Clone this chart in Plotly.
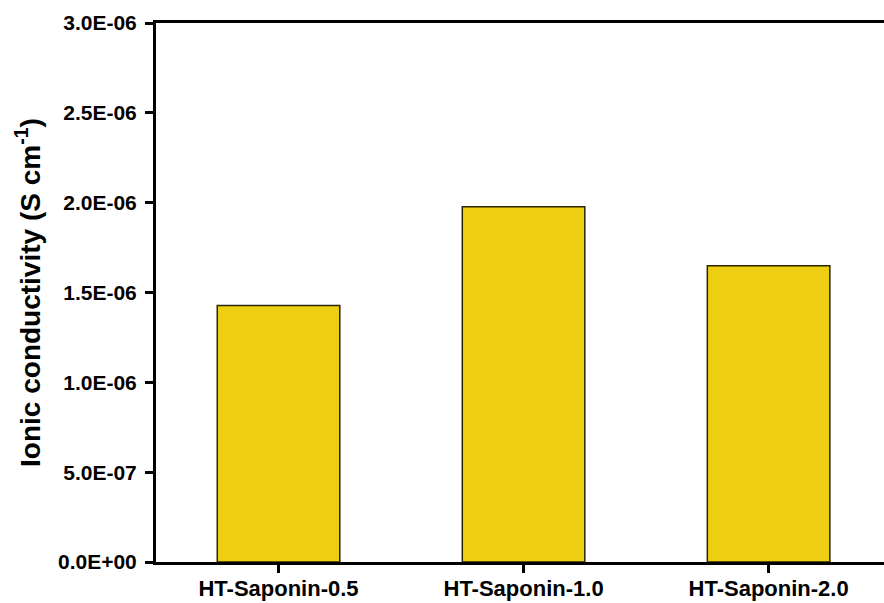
import plotly.graph_objects as go

categories = ["HT-Saponin-0.5", "HT-Saponin-1.0", "HT-Saponin-2.0"]
conductivity = [1.428e-06, 1.977e-06, 1.649e-06]
y_tick_vals = [0, 5e-07, 1e-06, 1.5e-06, 2e-06, 2.5e-06, 3e-06]
y_tick_text = ["0.0E+00", "5.0E-07", "1.0E-06", "1.5E-06", "2.0E-06", "2.5E-06", "3.0E-06"]

fig = go.Figure(go.Bar(
    x=list(range(len(categories))),
    y=conductivity,
    width=0.5,
    marker=dict(color="#EECE12", line=dict(color="#2b2500", width=1.5)),
))

font = "Liberation Sans, Arial, sans-serif"
fig.update_layout(
    width=884, height=603,
    margin=dict(l=156, r=0, t=23, b=41),
    paper_bgcolor="white", plot_bgcolor="white",
    showlegend=False,
    font=dict(family=font, color="black"),
    xaxis=dict(
        range=[-0.5, 2.471],
        tickvals=list(range(len(categories))),
        ticktext=categories,
        showline=True, linecolor="black", linewidth=3, mirror=True,
        ticks="outside", ticklen=8, tickwidth=3, tickcolor="black",
        tickfont=dict(family=font, size=22, weight="bold"),
        ticklabelstandoff=-3,
        showgrid=False, zeroline=False, automargin=False,
    ),
    yaxis=dict(
        range=[0, 3e-06],
        tickvals=y_tick_vals,
        ticktext=y_tick_text,
        showline=True, linecolor="black", linewidth=3,
        ticks="outside", ticklen=8, tickwidth=3, tickcolor="black",
        tickfont=dict(family=font, size=21, weight="bold"),
        ticklabelstandoff=4,
        showgrid=False, zeroline=False, automargin=False,
        title=dict(text="Ionic conductivity (S cm<sup>-1</sup>)",
                   font=dict(family=font, size=28, weight="bold"), standoff=10),
    ),
)

fig.write_html("out.html", config={"displayModeBar": False},
               post_script="document.body.style.margin='0';")
